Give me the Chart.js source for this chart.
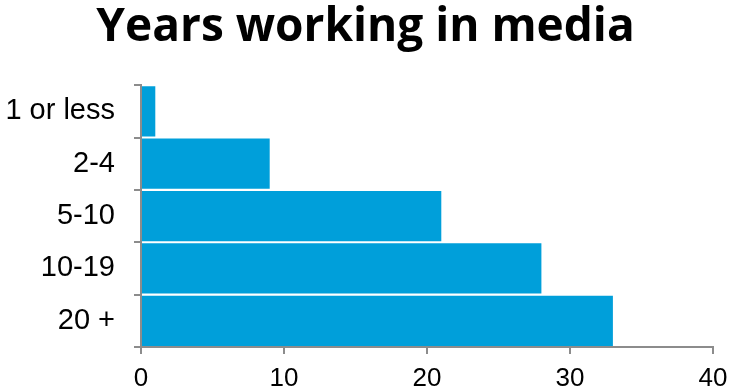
<!DOCTYPE html>
<html>
<head>
<meta charset="utf-8">
<script src="https://cdn.jsdelivr.net/npm/chart.js@4"></script>
<style>
  html, body { margin: 0; padding: 0; background: #fff; }
  #wrap { width: 731px; height: 392px; }
</style>
</head>
<body>
<div id="wrap"><canvas id="barChart" width="731" height="392"></canvas></div>
<script>
  // years in media
  const categories = ['1 or less', '2-4', '5-10', '10-19', '20 +'];
  const counts = [1, 9, 21, 28, 33];
  const xTicks = [0, 10, 20, 30, 40];

  const axisGray = '#8c8c8c';

  const data_bar = {
    labels: categories,
    datasets: [{
      label: 'Years working in media',
      data: counts,
      backgroundColor: '#009fda',
      borderWidth: 0,
      barPercentage: 0.96,
      categoryPercentage: 1.0
    }]
  };

  const config_bar = {
    type: 'bar',
    data: data_bar,
    options: {
      indexAxis: 'y',
      responsive: false,
      animation: false,
      layout: { padding: 0 },
      plugins: {
        legend: { display: false },
        tooltip: { enabled: false },
        title: {
          display: true,
          text: 'Years working in media',
          color: '#000',
          font: { family: 'Open Sans', size: 46, weight: 'bold', lineHeight: 1.2 },
          padding: { top: 0, bottom: 30 }
        }
      },
      scales: {
        x: {
          min: xTicks[0],
          max: xTicks[xTicks.length - 1],
          afterBuildTicks: (axis) => { axis.ticks = xTicks.map(v => ({ value: v })); },
          afterFit: (axis) => { axis.height = 45; axis.paddingRight = 18; axis.paddingLeft = 0; },
          border: { color: axisGray, width: 2 },
          grid: { drawOnChartArea: false, tickLength: 7, color: axisGray, lineWidth: 2 },
          ticks: { color: '#000', font: { family: 'Liberation Sans', size: 26 }, padding: 9 }
        },
        y: {
          afterFit: (axis) => { axis.width = 141; },
          border: { color: axisGray, width: 2 },
          grid: { drawOnChartArea: false, tickLength: 7, color: axisGray, lineWidth: 2, offset: true },
          ticks: { color: '#000', font: { family: 'Liberation Sans', size: 29 }, padding: 19 }
        }
      }
    }
  };

  const chart_bar = new Chart(
    document.getElementById('barChart').getContext('2d'),
    config_bar
  );
</script>
</body>
</html>
